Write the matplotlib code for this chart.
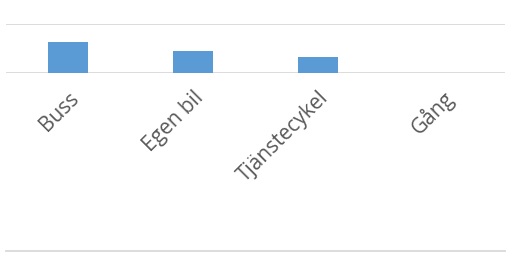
import matplotlib
matplotlib.use('Agg')
import matplotlib.pyplot as plt
from matplotlib.lines import Line2D
from matplotlib.transforms import ScaledTranslation

categories = ['Buss', 'Egen bil', 'Tjänstecykel', 'Gång']
values = [0.63, 0.45, 0.32, 0.0]

bar_color = '#5B9BD5'
grid_color = '#D9D9D9'
text_color = '#595959'

fig = plt.figure(figsize=(5.22, 2.54), dpi=100)
ax = fig.add_axes([0.0115, 0.7126, 0.956, 0.193])

x = range(len(categories))
ax.bar(x, values, width=0.32, color=bar_color, zorder=2)
ax.set_xlim(-0.5, len(categories) - 0.5)
ax.set_ylim(0, 1)
ax.axhline(0, color=grid_color, lw=1.3, zorder=1)
ax.axhline(1, color=grid_color, lw=1.3, zorder=1)

for s in ax.spines.values():
    s.set_visible(False)
ax.set_yticks([])
ax.set_xticks(list(x))
ax.set_xticklabels(categories, rotation=45, ha='right', va='center',
                   rotation_mode='anchor', fontsize=15, color=text_color,
                   family=['Open Sans', 'DejaVu Sans'])
ax.tick_params(axis='x', length=0, pad=0)
shift = ScaledTranslation(0.075, -0.22, fig.dpi_scale_trans)
for lbl in ax.get_xticklabels():
    lbl.set_transform(lbl.get_transform() + shift)

# bottom border line of the chart area
fig.add_artist(Line2D([0.0115, 0.9674], [1 - 250.5 / 254, 1 - 250.5 / 254],
                      color=grid_color, lw=1.3))

fig.savefig('out.png', dpi=100)
